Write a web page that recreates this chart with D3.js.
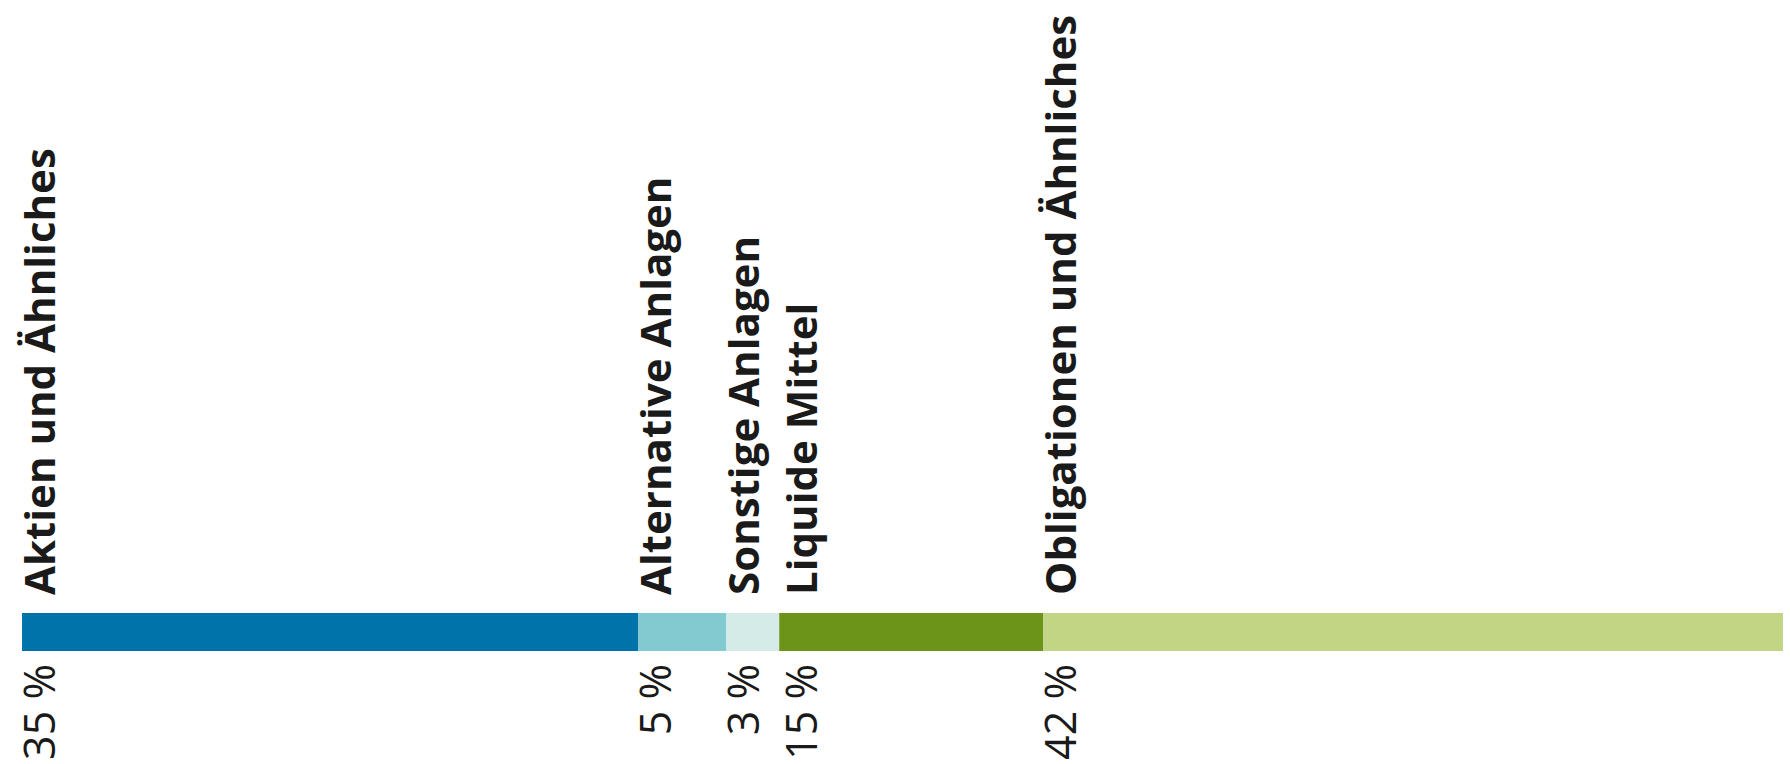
<!DOCTYPE html>
<html>
<head>
	<meta charset="utf-8">
	<title>Anlagen</title>
	<script type="text/javascript" src="https://cdn.jsdelivr.net/npm/d3@7/dist/d3.min.js"></script>
	<style>
		body { margin: 0; background: #fff; }
		text { font-family: "Open Sans", sans-serif; fill: #1a1a1a; }
	</style>
</head>
<body>
	<div id="chart"></div>
	<script type="text/javascript">

	var categories = ["Aktien und Ähnliches", "Alternative Anlagen", "Sonstige Anlagen", "Liquide Mittel", "Obligationen und Ähnliches"];
	var shares = [35, 5, 3, 15, 42];
	var shareLabels = ["35 %", "5 %", "3 %", "15 %", "42 %"];
	var colors = ["#0074aa", "#82c9d0", "#d5ebe7", "#6b9419", "#c1d584"];

	var width = 1790, height = 764;
	var barTop = 613, barH = 38;

	var svg = d3.select("#chart").append("svg")
		.attr("width", width)
		.attr("height", height);

	var x = d3.scaleLinear().domain([0, 100]).range([22, 1783]);

	/* cumulative start of each segment */
	var data = [], acc = 0;
	shares.forEach(function(v, i) {
		data.push({ name: categories[i], value: v, label: shareLabels[i], color: colors[i], start: acc });
		acc += v;
	});

	svg.selectAll("rect.seg")
		.data(data)
		.enter().append("rect")
		.attr("class", "seg")
		.attr("x", function(d) { return x(d.start); })
		.attr("y", barTop)
		.attr("width", function(d) { return x(d.start + d.value) - x(d.start); })
		.attr("height", barH)
		.attr("fill", function(d) { return d.color; });

	/* label baselines: start of segment, pushed right so neighbours don't collide */
	var prev = -Infinity;
	data.forEach(function(d) {
		d.tx = Math.max(x(d.start) + 33, prev + 58);
		prev = d.tx;
	});

	svg.selectAll("text.name")
		.data(data)
		.enter().append("text")
		.attr("class", "name")
		.attr("transform", function(d) { return "translate(" + d.tx + "," + (barTop - 18) + ") rotate(-90)"; })
		.style("font-size", "42px")
		.style("font-weight", "bold")
		.text(function(d) { return d.name; });

	svg.selectAll("text.pct")
		.data(data)
		.enter().append("text")
		.attr("class", "pct")
		.attr("transform", function(d) { return "translate(" + d.tx + "," + (barTop + barH + 13) + ") rotate(-90)"; })
		.attr("text-anchor", "end")
		.style("font-size", "43px")
		.text(function(d) { return d.label; });

	</script>
</body>
</html>
